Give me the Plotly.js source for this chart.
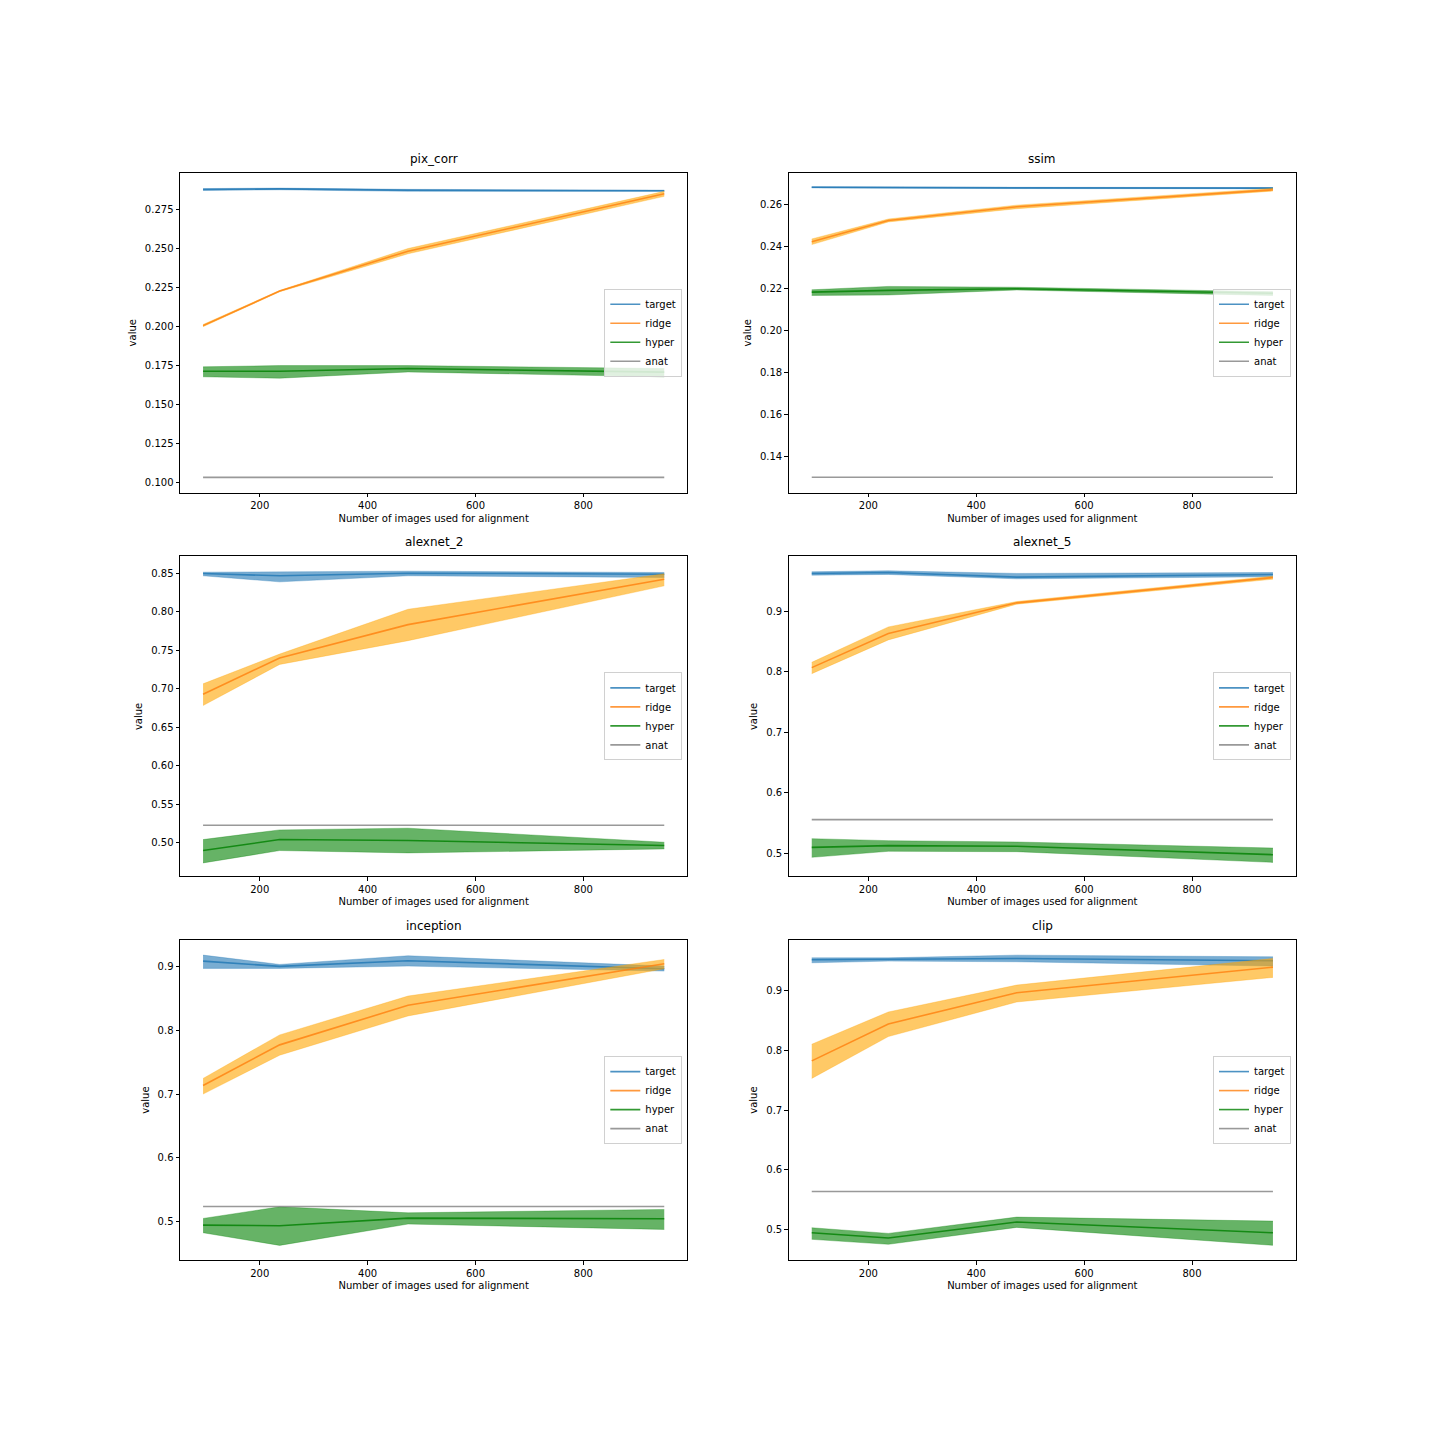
<!DOCTYPE html>
<html>
<head>
<meta charset="utf-8">
<script src="https://cdn.plot.ly/plotly-3.0.1.min.js"></script>
<style>
  body { margin: 0; background: #fff; }
  #chart { width: 1440px; height: 1440px; }
</style>
</head>
<body>
<div id="chart"></div>
<script>
// number of images used for alignment (x of every panel)
const nImages = [95, 237, 475, 950];

// pix_corr
const pixCorrTarget   = [0.2880, 0.2884, 0.2875, 0.2872];
const pixCorrTargetLo = [0.2874, 0.2878, 0.2868, 0.2868];
const pixCorrTargetHi = [0.2886, 0.2889, 0.2881, 0.2876];
const pixCorrRidge    = [0.2008, 0.2229, 0.2485, 0.2853];
const pixCorrRidgeLo  = [0.2001, 0.2225, 0.2468, 0.2836];
const pixCorrRidgeHi  = [0.2015, 0.2233, 0.2502, 0.2868];
const pixCorrHyper    = [0.1716, 0.1716, 0.1733, 0.1710];
const pixCorrHyperLo  = [0.1680, 0.1671, 0.1711, 0.1680];
const pixCorrHyperHi  = [0.1744, 0.1752, 0.1752, 0.1733];
const pixCorrAnat     = 0.1036;

// ssim
const ssimTarget   = [0.2683, 0.2683, 0.2680, 0.2679];
const ssimTargetLo = [0.2680, 0.2680, 0.2677, 0.2676];
const ssimTargetHi = [0.2686, 0.2686, 0.2683, 0.2682];
const ssimRidge    = [0.2424, 0.2525, 0.2590, 0.2671];
const ssimRidgeLo  = [0.2410, 0.2518, 0.2581, 0.2665];
const ssimRidgeHi  = [0.2437, 0.2532, 0.2598, 0.2678];
const ssimHyper    = [0.2184, 0.2192, 0.2200, 0.2178];
const ssimHyperLo  = [0.2168, 0.2170, 0.2194, 0.2168];
const ssimHyperHi  = [0.2195, 0.2211, 0.2207, 0.2186];
const ssimAnat     = 0.1302;

// alexnet_2
const alex2Target   = [0.8500, 0.8470, 0.8504, 0.8491];
const alex2TargetLo = [0.8470, 0.8391, 0.8470, 0.8448];
const alex2TargetHi = [0.8517, 0.8522, 0.8530, 0.8513];
const alex2Ridge    = [0.6930, 0.7400, 0.7835, 0.8426];
const alex2RidgeLo  = [0.6782, 0.7317, 0.7626, 0.8339];
const alex2RidgeHi  = [0.7065, 0.7452, 0.8035, 0.8496];
const alex2Hyper    = [0.4896, 0.5039, 0.5026, 0.4961];
const alex2HyperLo  = [0.4735, 0.4896, 0.4865, 0.4917];
const alex2HyperHi  = [0.5039, 0.5165, 0.5187, 0.5004];
const alex2Anat     = 0.5226;

// alexnet_5
const alex5Target   = [0.9631, 0.9647, 0.9570, 0.9614];
const alex5TargetLo = [0.9603, 0.9614, 0.9542, 0.9575];
const alex5TargetHi = [0.9659, 0.9675, 0.9631, 0.9647];
const alex5Ridge    = [0.8071, 0.8635, 0.9144, 0.9564];
const alex5RidgeLo  = [0.7971, 0.8530, 0.9122, 0.9536];
const alex5RidgeHi  = [0.8159, 0.8745, 0.9166, 0.9586];
const alex5Hyper    = [0.5094, 0.5122, 0.5111, 0.4972];
const alex5HyperLo  = [0.4928, 0.5028, 0.5022, 0.4845];
const alex5HyperHi  = [0.5238, 0.5205, 0.5183, 0.5083];
const alex5Anat     = 0.5553;

// inception
const incTarget   = [0.9083, 0.9000, 0.9089, 0.8964];
const incTargetLo = [0.8969, 0.8969, 0.9005, 0.8927];
const incTargetHi = [0.9177, 0.9031, 0.9167, 0.9005];
const incRidge    = [0.7135, 0.7771, 0.8391, 0.9042];
const incRidgeLo  = [0.7000, 0.7609, 0.8224, 0.8964];
const incRidgeHi  = [0.7245, 0.7927, 0.8536, 0.9109];
const incHyper    = [0.4948, 0.4938, 0.5057, 0.5047];
const incHyperLo  = [0.4828, 0.4630, 0.4964, 0.4880];
const incHyperHi  = [0.5052, 0.5234, 0.5140, 0.5193];
const incAnat     = 0.5240;

// clip
const clipTarget   = [0.9511, 0.9517, 0.9533, 0.9494];
const clipTargetLo = [0.9461, 0.9489, 0.9478, 0.9406];
const clipTargetHi = [0.9544, 0.9544, 0.9589, 0.9561];
const clipRidge    = [0.7822, 0.8439, 0.8961, 0.9389];
const clipRidgeLo  = [0.7528, 0.8228, 0.8806, 0.9217];
const clipRidgeHi  = [0.8100, 0.8639, 0.9089, 0.9533];
const clipHyper    = [0.4950, 0.4861, 0.5128, 0.4950];
const clipHyperLo  = [0.4839, 0.4756, 0.5039, 0.4739];
const clipHyperHi  = [0.5033, 0.4939, 0.5211, 0.5144];
const clipAnat     = 0.5639;

const seriesNames = ['target', 'ridge', 'hyper', 'anat'];

const panels = [
  {title: 'pix_corr', series: [[pixCorrTarget, pixCorrTargetLo, pixCorrTargetHi], [pixCorrRidge, pixCorrRidgeLo, pixCorrRidgeHi], [pixCorrHyper, pixCorrHyperLo, pixCorrHyperHi]], anat: pixCorrAnat,
   yrange: [0.0938, 0.2987], dtick: 0.025, fmt: '.3f'},
  {title: 'ssim', series: [[ssimTarget, ssimTargetLo, ssimTargetHi], [ssimRidge, ssimRidgeLo, ssimRidgeHi], [ssimHyper, ssimHyperLo, ssimHyperHi]], anat: ssimAnat,
   yrange: [0.1229, 0.2752], dtick: 0.02, fmt: '.2f'},
  {title: 'alexnet_2', series: [[alex2Target, alex2TargetLo, alex2TargetHi], [alex2Ridge, alex2RidgeLo, alex2RidgeHi], [alex2Hyper, alex2HyperLo, alex2HyperHi]], anat: alex2Anat,
   yrange: [0.456, 0.8722], dtick: 0.05, fmt: '.2f'},
  {title: 'alexnet_5', series: [[alex5Target, alex5TargetLo, alex5TargetHi], [alex5Ridge, alex5RidgeLo, alex5RidgeHi], [alex5Hyper, alex5HyperLo, alex5HyperHi]], anat: alex5Anat,
   yrange: [0.4613, 0.9913], dtick: 0.1, fmt: '.1f'},
  {title: 'inception', series: [[incTarget, incTargetLo, incTargetHi], [incRidge, incRidgeLo, incRidgeHi], [incHyper, incHyperLo, incHyperHi]], anat: incAnat,
   yrange: [0.4401, 0.9411], dtick: 0.1, fmt: '.1f'},
  {title: 'clip', series: [[clipTarget, clipTargetLo, clipTargetHi], [clipRidge, clipRidgeLo, clipRidgeHi], [clipHyper, clipHyperLo, clipHyperHi]], anat: clipAnat,
   yrange: [0.4494, 0.9839], dtick: 0.1, fmt: '.1f'},
];

const lineColors = ['rgba(31,119,180,0.8)', 'rgba(255,127,14,0.8)', 'rgba(0,128,0,0.8)', 'rgba(128,128,128,0.8)'];
const bandColors = ['rgba(31,119,180,0.6)', 'rgba(255,165,0,0.6)', 'rgba(0,128,0,0.6)'];

// figure geometry (fractions of the 1440 canvas)
const colDomains = [[0.125, 0.4773], [0.5477, 0.9]];
const rowDomains = [[0.6579, 0.88], [0.3914, 0.6136], [0.125, 0.3471]];

const font = 'DejaVu Sans, Liberation Sans, sans-serif';
const traces = [];
const layout = {
  width: 1440, height: 1440,
  margin: {l: 0, r: 0, t: 0, b: 0},
  paper_bgcolor: '#fff', plot_bgcolor: '#fff',
  font: {family: font, size: 10, color: '#000'},
  annotations: [],
};

panels.forEach((p, i) => {
  const row = Math.floor(i / 2), col = i % 2;
  const sfx = i === 0 ? '' : String(i + 1);
  const xa = 'x' + sfx, ya = 'y' + sfx;
  const legendId = 'legend' + sfx;

  p.series.forEach((s, k) => {
    traces.push({x: nImages, y: s[1], xaxis: xa, yaxis: ya, mode: 'lines',
      line: {width: 0.5, color: bandColors[k]}, showlegend: false, hoverinfo: 'skip'});
    traces.push({x: nImages, y: s[2], xaxis: xa, yaxis: ya, mode: 'lines', fill: 'tonexty',
      fillcolor: bandColors[k], line: {width: 0.5, color: bandColors[k]}, showlegend: false, hoverinfo: 'skip'});
    traces.push({x: nImages, y: s[0], xaxis: xa, yaxis: ya, mode: 'lines', name: seriesNames[k],
      line: {width: 1.6, color: lineColors[k]}, legend: legendId});
  });
  traces.push({x: nImages, y: nImages.map(() => p.anat), xaxis: xa, yaxis: ya, mode: 'lines', name: 'anat',
    line: {width: 1.6, color: lineColors[3]}, legend: legendId});

  const axBase = {showline: true, mirror: true, linecolor: '#000', linewidth: 1, showgrid: false, zeroline: false,
    ticks: 'outside', ticklen: 3.5, tickwidth: 1, tickcolor: '#000', tickfont: {size: 10, family: font}};

  layout['xaxis' + sfx] = Object.assign({}, axBase, {
    domain: colDomains[col], anchor: ya, range: [52.25, 992.75], dtick: 200, tick0: 0,
    title: {text: 'Number of images used for alignment', font: {size: 10}, standoff: 4},
  });
  layout['yaxis' + sfx] = Object.assign({}, axBase, {
    domain: rowDomains[row], anchor: xa, range: p.yrange, dtick: p.dtick, tick0: 0, tickformat: p.fmt,
    title: {text: 'value', font: {size: 10}, standoff: 6},
  });
  layout[legendId] = {
    x: (colDomains[col][1] * 1440 - 5) / 1440, xanchor: 'right',
    y: (rowDomains[row][0] + rowDomains[row][1]) / 2, yanchor: 'middle',
    bgcolor: 'rgba(255,255,255,0.8)', bordercolor: '#d0d0d0', borderwidth: 1,
    font: {size: 10, family: font}, itemwidth: 30, tracegroupgap: 0, traceorder: 'normal',
  };
  layout.annotations.push({
    text: p.title, xref: 'paper', yref: 'paper', showarrow: false,
    x: (colDomains[col][0] + colDomains[col][1]) / 2, xanchor: 'center',
    y: rowDomains[row][1] + 5 / 1440, yanchor: 'bottom',
    font: {size: 12, family: font},
  });
});

Plotly.newPlot('chart', traces, layout, {displayModeBar: false, staticPlot: true});
</script>
</body>
</html>
